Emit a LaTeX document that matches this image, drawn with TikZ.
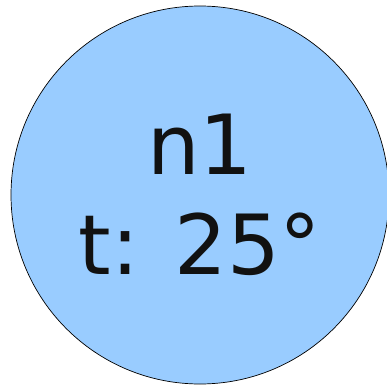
\documentclass[tikz,border=0pt]{standalone}
\usepackage{fontspec}
\setmainfont{DejaVu Sans}
\usepackage{xcolor}
\usepackage{tikz}
\usetikzlibrary{positioning}

\definecolor{nodeblue}{HTML}{99CCFF}
\definecolor{inkgray}{HTML}{111111}

\tikzset{
  tempnode/.style={circle, draw=black, line width=0.7pt, fill=nodeblue,
    minimum size=378pt, inner sep=0pt, align=center, text=inkgray,
    font=\fontsize{83}{100}\selectfont}
}

\begin{document}
\begin{tikzpicture}[x=1pt,y=1pt]
\useasboundingbox (0,0) rectangle (387,386);
% Sensor node
\node[tempnode] (n1) at (200,191) {n1\\t: 25°};
\end{tikzpicture}
\end{document}
